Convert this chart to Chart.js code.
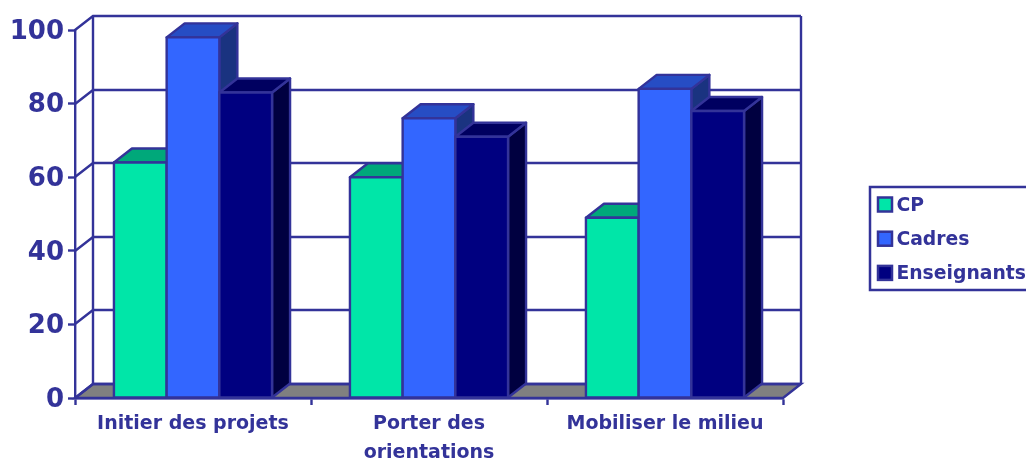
<!DOCTYPE html>
<html>
<head>
<meta charset="utf-8">
<style>html,body{margin:0;padding:0;background:#fff}canvas{display:block}</style>
<script src="https://cdn.jsdelivr.net/npm/chart.js@4/dist/chart.umd.min.js"></script>
</head>
<body>
<canvas id="c" width="1026" height="460"></canvas>
<script>
const categories = [["Initier des projets"], ["Porter des", "orientations"], ["Mobiliser le milieu"]];
const seriesNames = ["CP", "Cadres", "Enseignants"];
const cpValues = [64, 60, 49];
const cadresValues = [98, 76, 84];
const enseignantsValues = [83, 71, 78];

const INK = "#333399";
const frontColors = ["#00E6A8", "#3366FF", "#000080"];
const topColors = ["#00A87A", "#264DC4", "#000060"];
const sideColors = ["#00805C", "#1A3380", "#000040"];
const DX = 18, DY = 14;
const LW = 2.4;
const FONT = "'DejaVu Sans', Verdana, sans-serif";
const LEGEND_SIZE = 18.8;
const LEGEND_PAD = 15.4;
const LEGEND_TEXT_SHIFT = 1.5;

function poly(ctx, pts, fill) {
  ctx.beginPath();
  pts.forEach((p, i) => i ? ctx.lineTo(p[0], p[1]) : ctx.moveTo(p[0], p[1]));
  ctx.closePath();
  if (fill) { ctx.fillStyle = fill; ctx.fill(); }
  ctx.stroke();
}

const wall3d = {
  id: "wall3d",
  beforeDatasetsDraw(chart) {
    const { ctx, chartArea: a, scales: { y } } = chart;
    ctx.save();
    ctx.strokeStyle = INK;
    ctx.lineWidth = LW;
    poly(ctx, [[a.left, a.bottom], [a.right, a.bottom], [a.right + DX, a.bottom - DY], [a.left + DX, a.bottom - DY]], "#808080");
    y.ticks.forEach(t => {
      const py = Math.round(y.getPixelForValue(t.value));
      ctx.beginPath();
      ctx.moveTo(a.left, py);
      ctx.lineTo(a.left + DX, py - DY);
      ctx.lineTo(a.right + DX, py - DY);
      ctx.stroke();
    });
    ctx.beginPath();
    ctx.moveTo(a.left + DX, a.top - DY);
    ctx.lineTo(a.left + DX, a.bottom - DY);
    ctx.moveTo(a.right + DX, a.top - DY);
    ctx.lineTo(a.right + DX, a.bottom - DY);
    ctx.stroke();
    ctx.restore();
  },
  afterDatasetsDraw(chart) {
    const { ctx } = chart;
    ctx.save();
    ctx.lineJoin = "round";
    chart.data.datasets.forEach((ds, i) => {
      chart.getDatasetMeta(i).data.forEach(b => {
        const l = b.x - b.width / 2, r = b.x + b.width / 2, t = b.y, bt = b.base;
        ctx.strokeStyle = INK;
        ctx.lineWidth = LW;
        poly(ctx, [[r, t], [r + DX, t - DY], [r + DX, bt - DY], [r, bt]], sideColors[i]);
        poly(ctx, [[l, t], [l + DX, t - DY], [r + DX, t - DY], [r, t]], topColors[i]);
        b.draw(ctx);
        ctx.strokeRect(l, t, r - l, bt - t);
      });
    });
    ctx.restore();
  },
  afterLayout(chart) {
    const lg = chart.legend;
    lg.left = 878 - LEGEND_PAD;
    lg.right = 1040;
    lg.top = 204.5 - LEGEND_SIZE / 2 - LEGEND_PAD + LEGEND_TEXT_SHIFT;
    lg.bottom = 460;
  },
  afterDraw(chart) {
    const { ctx } = chart;
    ctx.save();
    ctx.strokeStyle = INK;
    ctx.lineWidth = 2.5;
    ctx.strokeRect(870, 187, 170, 103);
    chart.legend.legendHitBoxes.forEach((h, i) => {
      const y = h.top + LEGEND_SIZE / 2 - LEGEND_TEXT_SHIFT - 7;
      ctx.fillStyle = frontColors[i];
      ctx.fillRect(h.left, y, 14, 14);
      ctx.strokeRect(h.left, y, 14, 14);
    });
    ctx.restore();
  }
};

new Chart(document.getElementById("c"), {
  type: "bar",
  data: {
    labels: categories,
    datasets: [cpValues, cadresValues, enseignantsValues].map((d, i) => ({
      label: seriesNames[i],
      data: d,
      backgroundColor: frontColors[i],
      borderColor: INK,
      borderWidth: 0,
      categoryPercentage: 0.67,
      barPercentage: 1
    }))
  },
  plugins: [wall3d],
  options: {
    responsive: false,
    animation: false,
    layout: { padding: { left: 0, top: 30, right: 143, bottom: 0 } },
    plugins: {
      title: { display: false },
      tooltip: { enabled: false },
      legend: {
        position: "right",
        align: "start",
        maxWidth: 100,
        labels: {
          boxWidth: 9,
          boxHeight: 10,
          padding: LEGEND_PAD,
          color: INK,
          font: { family: FONT, size: LEGEND_SIZE, weight: "bold" }
        }
      }
    },
    scales: {
      x: {
        afterFit(s) { s.height = 62; },
        grid: { offset: true, drawOnChartArea: false, drawTicks: true, tickLength: 7, tickColor: INK, tickWidth: 2.4 },
        border: { color: INK, width: 2.4 },
        ticks: { color: INK, padding: 4, maxRotation: 0, autoSkip: false, font: { family: FONT, size: 19, weight: "bold", lineHeight: 1.55 } }
      },
      y: {
        min: 0,
        max: 100,
        afterFit(s) { s.width = 75; },
        grid: { drawOnChartArea: false, drawTicks: true, tickLength: 7, tickColor: INK, tickWidth: 2.4 },
        border: { color: INK, width: 2.4 },
        ticks: { stepSize: 20, color: INK, padding: 4, labelOffset: 2, font: { family: FONT, size: 26, weight: "bold" } }
      }
    }
  }
});
</script>
</body>
</html>
